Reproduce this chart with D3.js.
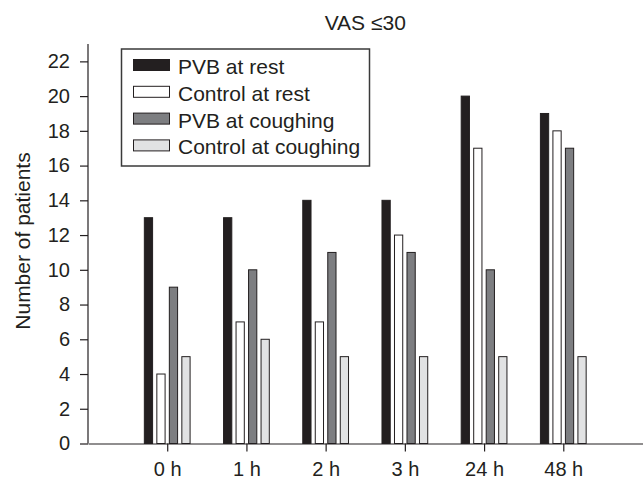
<!DOCTYPE html>
<html>
<head>
<meta charset="utf-8">
<script src="https://cdn.jsdelivr.net/npm/d3@7"></script>
<style>
  html, body { margin: 0; padding: 0; background: #fff; }
  svg { display: block; font-family: "Liberation Sans", Arial, sans-serif; }
</style>
</head>
<body>
<svg id="chart" width="643" height="479"></svg>
<script>
const categories = ["0 h", "1 h", "2 h", "3 h", "24 h", "48 h"];
const seriesNames = ["PVB at rest", "Control at rest", "PVB at coughing", "Control at coughing"];
const pvbRest = [13, 13, 14, 14, 20, 19];
const controlRest = [4, 7, 7, 12, 17, 18];
const pvbCough = [9, 10, 11, 11, 10, 17];
const controlCough = [5, 6, 5, 5, 5, 5];
const yTicks = [0, 2, 4, 6, 8, 10, 12, 14, 16, 18, 20, 22];
const title = "VAS \u226430";
const yLabel = "Number of patients";

const seriesValues = [pvbRest, controlRest, pvbCough, controlCough];
const fills = ["#231f20", "#ffffff", "#7d7e81", "#e1e2e3"];
const ink = "#231f20";

const svg = d3.select("#chart");
const x0 = 88, x1 = 642.5, yBottom = 443.5, yTop = 44;

const x = d3.scaleLinear().domain([-1, categories.length]).range([x0, x1]);
const y = d3.scaleLinear().domain([0, 23]).range([yBottom, yTop]);
const sub = d3.scaleBand().domain(d3.range(seriesNames.length)).range([-24, 24]).paddingInner(0.34).paddingOuter(0.09);

// bars
seriesValues.forEach((vals, s) => {
  svg.append("g").selectAll("rect").data(vals).join("rect")
    .attr("x", (d, i) => x(i) + sub(s))
    .attr("y", d => y(d))
    .attr("width", sub.bandwidth())
    .attr("height", d => y(0) - y(d))
    .attr("fill", fills[s])
    .attr("stroke", ink)
    .attr("stroke-width", 1);
});

// y axis
const yAxis = d3.axisLeft(y).tickValues(yTicks).tickSize(8).tickPadding(10).tickSizeOuter(0);
const gy = svg.append("g").attr("transform", `translate(${x0},0)`).call(yAxis);
gy.select(".domain").attr("d", `M0,${yTop}V${yBottom}`);

// x axis
const xAxis = d3.axisBottom(x).tickValues(d3.range(categories.length))
  .tickFormat(i => categories[i]).tickSize(8).tickPadding(10).tickSizeOuter(0);
const gx = svg.append("g").attr("transform", `translate(0,${yBottom})`).call(xAxis);

[gx, gy].forEach(g => {
  g.selectAll(".domain").attr("stroke", ink).attr("stroke-width", 1.2);
  g.selectAll(".tick line").attr("stroke", ink).attr("stroke-width", 1.2);
  g.selectAll(".tick text").attr("fill", ink).style("font-size", "20px")
    .style("font-family", "'Liberation Sans', Arial, sans-serif");
});

// title
svg.append("text").attr("x", (x0 + x1) / 2).attr("y", 30).attr("text-anchor", "middle")
  .attr("fill", ink).style("font-size", "21px").text(title);

// y label
svg.append("text").attr("transform", "translate(30,241) rotate(-90)")
  .attr("text-anchor", "middle").attr("fill", ink).style("font-size", "21px").text(yLabel);

// legend
const lg = svg.append("g");
lg.append("rect").attr("x", 121.5).attr("y", 49).attr("width", 248).attr("height", 117)
  .attr("fill", "#fff").attr("stroke", "#3a3a3a").attr("stroke-width", 1.5);
seriesNames.forEach((name, s) => {
  const cy = 65 + s * 26.8;
  lg.append("rect").attr("x", 133.5).attr("y", cy - 5.5).attr("width", 36).attr("height", 11)
    .attr("fill", fills[s]).attr("stroke", ink).attr("stroke-width", 1);
  lg.append("text").attr("x", 178).attr("y", cy + 9).attr("fill", ink)
    .style("font-size", "21px").text(name);
});
</script>
</body>
</html>
